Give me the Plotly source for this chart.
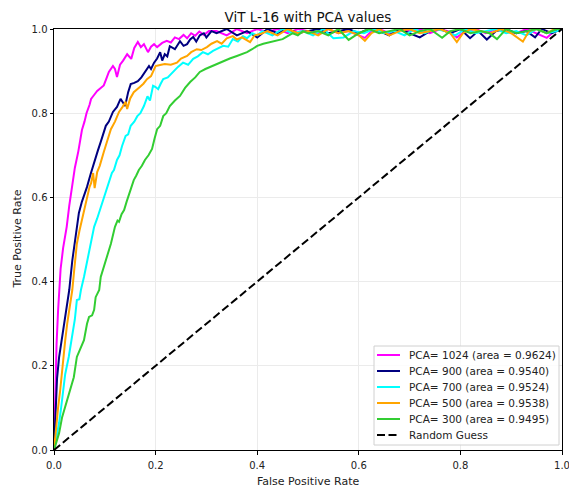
import plotly.graph_objects as go

# ---------------- data ----------------
fpr_1024 = [0, 0.002, 0.005, 0.008, 0.010, 0.013, 0.018, 0.025, 0.030, 0.036, 0.041, 0.048, 0.055, 0.060,
            0.064, 0.070, 0.073, 0.080, 0.085, 0.092, 0.098, 0.104, 0.108, 0.116, 0.120, 0.124, 0.130, 0.136,
            0.144, 0.152, 0.158, 0.165, 0.171, 0.177, 0.185, 0.191, 0.197, 0.203, 0.213, 0.222, 0.230, 0.238,
            0.246, 0.255, 0.262, 0.270, 0.278, 0.286, 0.295, 0.305,
            0.32, 0.34, 0.36, 0.38, 0.40, 0.42, 0.44, 0.46, 0.48, 0.50, 0.52, 0.54, 0.56, 0.58, 0.60, 0.612,
            0.625, 0.64, 0.66, 0.68, 0.70, 0.72, 0.74, 0.76, 0.78, 0.793, 0.81, 0.83, 0.85, 0.87, 0.89, 0.91,
            0.93, 0.95, 0.97, 0.985, 1.0]
tpr_1024 = [0, 0.12, 0.25, 0.33, 0.38, 0.43, 0.48, 0.53, 0.58, 0.63, 0.67, 0.71, 0.76, 0.78,
            0.80, 0.82, 0.834, 0.845, 0.853, 0.86, 0.866, 0.885, 0.898, 0.912, 0.905, 0.886, 0.915, 0.925,
            0.94, 0.929, 0.955, 0.969, 0.957, 0.964, 0.945, 0.958, 0.964, 0.957, 0.967, 0.972, 0.968, 0.98,
            0.976, 0.986, 0.978, 0.99, 0.984, 0.994, 0.986, 0.995,
            0.995, 0.985, 1.0, 0.99, 1.0, 0.993, 1.0, 0.99, 1.0, 0.995, 0.99, 1.0, 0.99, 0.995, 0.985, 0.979,
            0.995, 1.0, 0.99, 1.0, 0.995, 1.0, 0.99, 1.0, 0.993, 0.98, 0.995, 1.0, 0.99, 1.0, 0.995, 0.99,
            1.0, 0.99, 0.979, 0.995, 1.0]

fpr_900 = [0, 0.003, 0.006, 0.010, 0.015, 0.020, 0.025, 0.030, 0.036, 0.042, 0.049, 0.055, 0.065, 0.072,
           0.080, 0.086, 0.092, 0.097, 0.102, 0.108, 0.116, 0.124, 0.131, 0.136, 0.140, 0.146, 0.151, 0.158,
           0.165, 0.172, 0.179, 0.187, 0.191, 0.197, 0.203, 0.209, 0.213, 0.218, 0.223, 0.228, 0.238, 0.248,
           0.255, 0.262, 0.268, 0.274, 0.280, 0.287, 0.295, 0.300, 0.310,
           0.32, 0.34, 0.36, 0.38, 0.40, 0.42, 0.44, 0.46, 0.48, 0.50, 0.52, 0.54, 0.56, 0.58, 0.60, 0.62,
           0.64, 0.66, 0.68, 0.70, 0.72, 0.74, 0.76, 0.78, 0.80, 0.819, 0.835, 0.852, 0.87, 0.89, 0.91,
           0.93, 0.947, 0.96, 0.98, 1.0]
tpr_900 = [0, 0.10, 0.17, 0.22, 0.26, 0.30, 0.34, 0.38, 0.45, 0.50, 0.563, 0.59, 0.625, 0.655,
           0.689, 0.71, 0.732, 0.75, 0.77, 0.78, 0.803, 0.815, 0.834, 0.825, 0.817, 0.85, 0.869, 0.872,
           0.876, 0.885, 0.897, 0.912, 0.905, 0.92, 0.93, 0.945, 0.925, 0.94, 0.935, 0.959, 0.952, 0.971,
           0.96, 0.964, 0.975, 0.981, 0.97, 0.985, 0.99, 0.98, 0.995,
           0.99, 1.0, 0.985, 0.995, 0.98, 1.0, 0.99, 1.0, 0.99, 0.995, 1.0, 0.99, 0.995, 1.0, 0.99, 1.0,
           0.995, 0.985, 1.0, 0.99, 0.98, 0.995, 1.0, 0.99, 1.0, 0.978, 0.995, 0.975, 0.995, 1.0, 0.99,
           0.995, 0.98, 1.0, 0.99, 1.0]

fpr_700 = [0, 0.005, 0.010, 0.014, 0.018, 0.022, 0.029, 0.033, 0.038, 0.041, 0.043, 0.045, 0.050, 0.053,
           0.059, 0.066, 0.073, 0.079, 0.085, 0.092, 0.098, 0.104, 0.109, 0.114, 0.118, 0.124, 0.129, 0.134,
           0.141, 0.146, 0.151, 0.158, 0.164, 0.170, 0.177, 0.184, 0.189, 0.195, 0.200, 0.205, 0.210, 0.215,
           0.224, 0.234, 0.244, 0.254, 0.264, 0.274, 0.283, 0.293, 0.303, 0.313, 0.323, 0.333, 0.343, 0.352,
           0.362, 0.372, 0.380, 0.390, 0.400,
           0.41, 0.43, 0.45, 0.47, 0.49, 0.51, 0.53, 0.55, 0.57, 0.59, 0.61, 0.63, 0.65, 0.67, 0.69, 0.71,
           0.73, 0.75, 0.77, 0.79, 0.81, 0.83, 0.85, 0.87, 0.89, 0.91, 0.93, 0.95, 0.97, 0.99, 1.0]
tpr_700 = [0, 0.03, 0.064, 0.10, 0.143, 0.18, 0.221, 0.25, 0.278, 0.31, 0.333, 0.356, 0.358, 0.38,
           0.411, 0.45, 0.49, 0.53, 0.55, 0.577, 0.60, 0.625, 0.64, 0.658, 0.665, 0.689, 0.70, 0.722,
           0.746, 0.75, 0.77, 0.78, 0.793, 0.80, 0.817, 0.84, 0.83, 0.865, 0.862, 0.857, 0.87, 0.881,
           0.885, 0.898, 0.91, 0.92, 0.915, 0.929, 0.935, 0.945, 0.94, 0.948, 0.955, 0.96, 0.958, 0.976,
           0.97, 0.983, 0.978, 0.99, 0.985,
           0.995, 0.985, 1.0, 0.99, 0.995, 0.985, 1.0, 0.978, 0.98, 0.995, 0.99, 1.0, 0.99, 0.995, 0.985, 1.0,
           0.99, 1.0, 0.995, 0.985, 1.0, 0.99, 0.995, 1.0, 0.99, 0.995, 0.985, 1.0, 0.99, 0.995, 1.0]

fpr_500 = [0, 0.004, 0.008, 0.012, 0.015, 0.018, 0.022, 0.026, 0.031, 0.036, 0.040, 0.045, 0.050, 0.058,
           0.065, 0.070, 0.073, 0.077, 0.080, 0.085, 0.090, 0.094, 0.098, 0.105, 0.112, 0.120, 0.128, 0.135,
           0.141, 0.144, 0.150, 0.157, 0.163, 0.169, 0.176, 0.183, 0.191, 0.200, 0.211, 0.218, 0.230, 0.242,
           0.250, 0.262, 0.270, 0.281, 0.290, 0.301, 0.310, 0.321, 0.330, 0.340, 0.352, 0.360, 0.370, 0.386,
           0.395, 0.406,
           0.42, 0.44, 0.46, 0.48, 0.50, 0.52, 0.54, 0.56, 0.58, 0.60, 0.612, 0.625, 0.64, 0.66, 0.68, 0.70,
           0.72, 0.74, 0.76, 0.78, 0.793, 0.805, 0.82, 0.84, 0.86, 0.88, 0.90, 0.923, 0.935, 0.95, 0.97,
           0.985, 1.0]
tpr_500 = [0, 0.06, 0.10, 0.14, 0.18, 0.22, 0.26, 0.30, 0.34, 0.38, 0.43, 0.49, 0.52, 0.563,
           0.60, 0.625, 0.634, 0.658, 0.622, 0.66, 0.675, 0.689, 0.708, 0.735, 0.762, 0.78, 0.803, 0.815,
           0.827, 0.81, 0.835, 0.85, 0.855, 0.862, 0.87, 0.881, 0.888, 0.912, 0.915, 0.917, 0.915, 0.92,
           0.93, 0.936, 0.945, 0.952, 0.95, 0.957, 0.965, 0.971, 0.965, 0.978, 0.983, 0.975, 0.98, 0.969,
           0.985, 0.988,
           0.995, 0.985, 1.0, 0.99, 0.995, 0.985, 1.0, 0.99, 0.995, 0.985, 0.972, 0.99, 1.0, 0.985, 0.995, 1.0,
           0.99, 0.995, 1.0, 0.99, 0.969, 0.99, 1.0, 0.995, 0.99, 1.0, 0.99, 0.97, 0.995, 1.0, 0.99,
           1.0, 1.0]

fpr_300 = [0, 0.005, 0.010, 0.016, 0.021, 0.026, 0.032, 0.039, 0.045, 0.052, 0.059, 0.065, 0.069, 0.075,
           0.079, 0.082, 0.089, 0.092, 0.097, 0.102, 0.107, 0.112, 0.116, 0.120, 0.125, 0.128, 0.133, 0.138,
           0.143, 0.148, 0.152, 0.157, 0.162, 0.167, 0.173, 0.179, 0.186, 0.193, 0.198, 0.203, 0.209, 0.215,
           0.221, 0.228, 0.238, 0.248, 0.258, 0.268, 0.278, 0.287, 0.298, 0.311, 0.322, 0.333, 0.346, 0.360,
           0.370, 0.380, 0.390, 0.400, 0.412, 0.425, 0.437, 0.450, 0.460, 0.470, 0.480, 0.490,
           0.50, 0.52, 0.54, 0.56, 0.58, 0.60, 0.62, 0.64, 0.66, 0.68, 0.70, 0.72, 0.74, 0.764, 0.78, 0.80,
           0.82, 0.84, 0.857, 0.872, 0.89, 0.91, 0.93, 0.95, 0.97, 0.99, 1.0]
tpr_300 = [0, 0.02, 0.04, 0.078, 0.10, 0.119, 0.145, 0.173, 0.221, 0.24, 0.261, 0.30, 0.316, 0.32,
           0.333, 0.363, 0.38, 0.411, 0.43, 0.451, 0.47, 0.49, 0.51, 0.53, 0.545, 0.542, 0.56, 0.57,
           0.59, 0.61, 0.625, 0.641, 0.652, 0.665, 0.675, 0.689, 0.70, 0.715, 0.74, 0.762, 0.77, 0.793,
           0.80, 0.817, 0.83, 0.841, 0.86, 0.874, 0.885, 0.898, 0.905, 0.912, 0.918, 0.924, 0.93, 0.936,
           0.94, 0.945, 0.952, 0.96, 0.965, 0.969, 0.972, 0.976, 0.983, 0.99, 0.985, 0.995,
           0.99, 0.995, 0.985, 1.0, 0.974, 0.99, 1.0, 0.99, 0.995, 1.0, 0.985, 0.995, 1.0, 0.979, 0.995, 1.0,
           0.99, 0.995, 0.99, 0.976, 1.0, 0.99, 0.995, 1.0, 0.99, 1.0, 1.0]

guess_x = [0, 1]
guess_y = [0, 1]

series_names = ["PCA= 1024 (area = 0.9624)", "PCA= 900 (area = 0.9540)", "PCA= 700 (area = 0.9524)",
                "PCA= 500 (area = 0.9538)", "PCA= 300 (area = 0.9495)"]
series_colors = ["#ff00ff", "#000080", "#00ffff", "#ffa500", "#32cd32"]
series_x = [fpr_1024, fpr_900, fpr_700, fpr_500, fpr_300]
series_y = [tpr_1024, tpr_900, tpr_700, tpr_500, tpr_300]
guess_name = "Random Guess"

tick_vals = [0, 0.2, 0.4, 0.6, 0.8, 1.0]
tick_text = ["0.0", "0.2", "0.4", "0.6", "0.8", "1.0"]

# ---------------- figure ----------------
W, H = 569, 488
L, R, T, B = 54, 7, 29, 38
PW, PH = W - L - R, H - T - B
FONT = "DejaVu Sans"
DASH = "8px,3.5px"

def px2paper_x(px):
    return (px - L) / PW

def px2paper_y(py):
    return (H - B - py) / PH

fig = go.Figure()
for name, x, y, c in zip(series_names, series_x, series_y, series_colors):
    fig.add_trace(go.Scatter(x=x, y=y, mode="lines", name=name, showlegend=False,
                             line=dict(color=c, width=2)))
fig.add_trace(go.Scatter(x=guess_x, y=guess_y, mode="lines", name=guess_name, showlegend=False,
                         line=dict(color="black", width=2, dash=DASH)))

# ---- legend (matplotlib style box, lower right) ----
shapes = []
annotations = []
box_l, box_r, box_t, box_b = 374, 559, 346, 445
shapes.append(dict(type="rect", xref="paper", yref="paper",
                   x0=px2paper_x(box_l), x1=px2paper_x(box_r),
                   y0=px2paper_y(box_b), y1=px2paper_y(box_t),
                   line=dict(color="#d0d0d0", width=1), fillcolor="rgba(255,255,255,0.85)",
                   layer="above"))
entries = list(zip(series_names, series_colors, ["solid"] * 5)) + [(guess_name, "black", DASH)]
for i, (name, c, dash) in enumerate(entries):
    yc = 355 + 16 * i
    shapes.append(dict(type="line", xref="paper", yref="paper",
                       x0=px2paper_x(377), x1=px2paper_x(400),
                       y0=px2paper_y(yc), y1=px2paper_y(yc),
                       line=dict(color=c, width=2, dash=dash), layer="above"))
    annotations.append(dict(text=name, xref="paper", yref="paper",
                            x=px2paper_x(407), y=px2paper_y(yc), xanchor="left", yanchor="middle",
                            showarrow=False, font=dict(family=FONT, size=10.5, color="#222222")))

# ---- axis titles ----
annotations.append(dict(text="False Positive Rate", xref="paper", yref="paper",
                        x=0.5, y=px2paper_y(481), xanchor="center", yanchor="middle",
                        showarrow=False, font=dict(family=FONT, size=11, color="#222222")))
annotations.append(dict(text="True Positive Rate", xref="paper", yref="paper",
                        x=px2paper_x(17), y=0.5, xanchor="center", yanchor="middle", textangle=-90,
                        showarrow=False, font=dict(family=FONT, size=11, color="#222222")))

axis_common = dict(range=[0, 1], tickvals=tick_vals, ticktext=tick_text,
                   showline=True, mirror=True, linecolor="black", linewidth=1,
                   ticks="outside", ticklen=3.5, tickcolor="black", tickwidth=1,
                   showgrid=True, gridcolor="#ebebeb", gridwidth=1, zeroline=False,
                   ticklabeloverflow="allow", automargin=False,
                   tickfont=dict(family=FONT, size=10, color="#222222"))

fig.update_layout(
    width=W, height=H,
    margin=dict(l=L, r=R, t=T, b=B, autoexpand=False),
    paper_bgcolor="white", plot_bgcolor="white",
    font=dict(family=FONT, color="#222222"),
    title=dict(text="ViT L-16 with PCA values", x=0.5, xref="paper",
               y=1 - 17 / H, yref="container", xanchor="center", yanchor="middle",
               font=dict(family=FONT, size=13.5, color="#111111")),
    xaxis=dict(ticklabelstandoff=2, **axis_common),
    yaxis=dict(**axis_common),
    shapes=shapes,
    annotations=annotations,
    showlegend=False,
)

fig.write_html("out.html")
